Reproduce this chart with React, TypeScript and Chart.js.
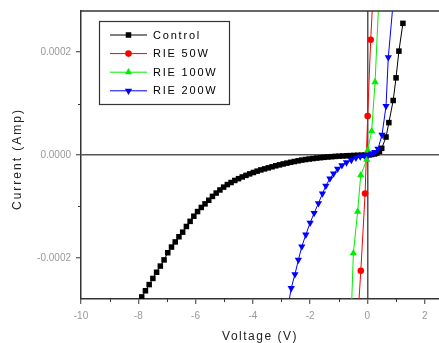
import React, { useEffect, useRef } from 'react';
import { Chart, registerables } from 'chart.js';
import { drawPoint } from 'chart.js/helpers';

Chart.register(...registerables);

// ---------- data ----------
const seriesLabels = ['Control', 'RIE 50W', 'RIE 100W', 'RIE 200W'];

// Voltage (V) and current (µA)
const controlVoltage = [
  -7.88, -7.75, -7.62, -7.49, -7.36, -7.23, -7.1, -6.97, -6.84, -6.71, -6.58, -6.45, -6.32, -6.19, -6.06,
  -5.93, -5.8, -5.67, -5.54, -5.41, -5.28, -5.15, -5.02, -4.89, -4.76, -4.63, -4.5, -4.37, -4.24, -4.11,
  -3.98, -3.85, -3.72, -3.59, -3.46, -3.33, -3.2, -3.07, -2.94, -2.81, -2.68, -2.55, -2.42, -2.29, -2.16,
  -2.03, -1.9, -1.77, -1.64, -1.51, -1.38, -1.25, -1.12, -0.99, -0.86, -0.73, -0.6, -0.47, -0.34, -0.21,
  -0.08, 0.05, 0.15, 0.25, 0.33, 0.42, 0.5, 0.65, 0.75, 0.9, 1.0, 1.1, 1.24,
];
const controlCurrent = [
  -276, -264, -252, -240, -228, -216, -204, -190, -179, -169, -159, -150, -139, -129, -119,
  -110, -102, -95, -88, -80.5, -74, -68, -62.5, -57.5, -53.5, -49.5, -46, -42.7, -39.6, -36.7,
  -34, -31.4, -29, -27, -25, -23, -21, -19.2, -17.4, -15.8, -14.2, -12.7, -11.3, -9.9, -8.8,
  -7.8, -6.9, -6.0, -5.2, -4.5, -3.9, -3.3, -2.7, -2.3, -1.9, -1.5, -1.2, -0.9, -0.6, -0.4,
  -0.1, 0.3, 1, 2, 4, 7, 13, 35, 63, 106, 150, 202, 256,
];

const rie50Voltage = [-0.35, -0.23, -0.08, 0.01, 0.115, 0.24];
const rie50Current = [-333, -225, -75, 75.7, 224, 360];

const rie100Voltage = [-0.6, -0.49, -0.34, -0.233, -0.02, 0.01, 0.15, 0.268, 0.48];
const rie100Current = [-370, -191, -110, -39.4, -9, 9.1, 46.6, 141.8, 400];

const rie200Voltage = [
  -2.8, -2.66, -2.53, -2.41, -2.29, -2.15, -2.0, -1.86, -1.71, -1.57, -1.45, -1.31, -1.18, -1.04, -0.89,
  -0.73, -0.56, -0.4, -0.25, -0.11, 0.03, 0.15, 0.26, 0.37, 0.51, 0.65, 0.73, 1.0,
];
const rie200Current = [
  -305, -259, -232, -204, -178, -155, -132, -113, -94, -75, -60, -46, -36, -27, -20,
  -14.5, -10, -5.5, -3, -1.2, 0.5, 2.5, 5.5, 12, 39, 95, 190, 360,
];

const xTickValues = [-10, -8, -6, -4, -2, 0, 2];
const xMinorTickValues = [-9, -7, -5, -3, -1, 1];
const yTickValues = [-0.0002, 0, 0.0002];
const yMinorTickValues = [-0.0001, 0.0001];
const xTitle = 'Voltage (V)';
const yTitle = 'Current (Amp)';

const toPoints = (v: number[], i: number[]) => v.map((x, k) => ({ x, y: i[k] * 1e-6 }));

// ---------- plugins ----------
const framePlugin = {
  id: 'frameExtras',
  afterDraw(chart: any) {
    const { ctx, chartArea } = chart;
    const xs = chart.scales.x;
    const ys = chart.scales.y;
    ctx.save();
    // top frame line
    ctx.strokeStyle = '#333';
    ctx.lineWidth = 1.5;
    ctx.beginPath();
    ctx.moveTo(chartArea.left, chartArea.top);
    ctx.lineTo(chartArea.right + 2, chartArea.top);
    ctx.stroke();
    // minor ticks
    ctx.lineWidth = 1;
    ctx.strokeStyle = '#333';
    ctx.beginPath();
    xMinorTickValues.forEach((v) => {
      const px = Math.round(xs.getPixelForValue(v)) + 0.5;
      ctx.moveTo(px, chartArea.bottom);
      ctx.lineTo(px, chartArea.bottom + 3);
    });
    yMinorTickValues.forEach((v) => {
      const py = Math.round(ys.getPixelForValue(v)) + 0.5;
      ctx.moveTo(chartArea.left - 3, py);
      ctx.lineTo(chartArea.left, py);
    });
    ctx.stroke();
    // axis titles
    ctx.fillStyle = '#222';
    ctx.font = '12px "Liberation Sans", Arial, sans-serif';
    (ctx as any).letterSpacing = '1.5px';
    ctx.textAlign = 'center';
    ctx.textBaseline = 'middle';
    ctx.fillText(xTitle, (chartArea.left + chartArea.right) / 2, 337);
    (ctx as any).letterSpacing = '2px';
    ctx.translate(18, 159);
    ctx.rotate(-Math.PI / 2);
    ctx.fillText(yTitle, 0, 0);
    ctx.restore();
  },
};

const legendPlugin = {
  id: 'boxedLegend',
  afterDraw(chart: any) {
    const { ctx } = chart;
    const box = { left: 99.5, top: 21.5, width: 130, height: 83 };
    ctx.save();
    ctx.fillStyle = '#fff';
    ctx.fillRect(box.left, box.top, box.width, box.height);
    ctx.strokeStyle = '#333';
    ctx.lineWidth = 1.2;
    ctx.strokeRect(box.left, box.top, box.width, box.height);
    chart.data.datasets.forEach((ds: any, i: number) => {
      const y = 35 + i * 18.6;
      ctx.strokeStyle = ds.borderColor;
      ctx.lineWidth = 1;
      ctx.beginPath();
      ctx.moveTo(110, y);
      ctx.lineTo(147, y);
      ctx.stroke();
      ctx.fillStyle = ds.pointBackgroundColor;
      drawPoint(ctx, {
        pointStyle: ds.pointStyle,
        radius: ds.pointRadius,
        rotation: ds.pointRotation || 0,
        borderWidth: 0,
      } as any, 128.5, y);
      ctx.fillStyle = '#000';
      ctx.font = '11px "Liberation Sans", Arial, sans-serif';
      (ctx as any).letterSpacing = '1.8px';
      ctx.textAlign = 'left';
      ctx.textBaseline = 'middle';
      ctx.fillText(ds.label, 153, y + 0.5);
      (ctx as any).letterSpacing = '0px';
    });
    ctx.restore();
  },
};

// ---------- component ----------
export default function App() {
  const canvasRef = useRef<HTMLCanvasElement | null>(null);

  useEffect(() => {
    if (!canvasRef.current) return;
    const colors = ['#000000', '#ff0000', '#00ee00', '#0000ff'];
    const styles = ['rect', 'circle', 'triangle', 'triangle'];
    const radii = [3.9, 3.3, 4.2, 4.2];
    const rotations = [0, 0, 0, 180];
    const sets = [
      toPoints(controlVoltage, controlCurrent),
      toPoints(rie50Voltage, rie50Current),
      toPoints(rie100Voltage, rie100Current),
      toPoints(rie200Voltage, rie200Current),
    ];
    const chart = new Chart(canvasRef.current, {
      type: 'line',
      data: {
        datasets: sets.map((data, i) => ({
          label: seriesLabels[i],
          data,
          borderColor: colors[i],
          backgroundColor: colors[i],
          pointBackgroundColor: colors[i],
          pointBorderWidth: 0,
          pointStyle: styles[i],
          pointRadius: radii[i],
          pointRotation: rotations[i],
          borderWidth: 1,
          tension: 0,
          fill: false,
          order: 3 - i,
        })),
      },
      options: {
        animation: false,
        responsive: false,
        devicePixelRatio: 1,
        layout: { autoPadding: false, padding: { top: 11, right: 0, left: 0, bottom: 0 } },
        plugins: {
          legend: { display: false },
          tooltip: { enabled: false },
        },
        scales: {
          x: {
            type: 'linear',
            min: -10,
            max: 2.5,
            afterFit: (s: any) => { s.height = 44; s.paddingRight = 0; s.paddingLeft = 0; },
            afterBuildTicks: (s: any) => { s.ticks = xTickValues.map((value) => ({ value })); },
            border: { display: true, color: '#333', width: 1.5 },
            grid: {
              drawOnChartArea: true,
              color: (c: any) => (c.tick && c.tick.value === 0 ? '#555' : 'rgba(0,0,0,0)'),
              lineWidth: 1.5,
              tickColor: '#333',
              tickWidth: 1,
              tickLength: 5,
            },
            ticks: {
              color: '#999',
              font: { size: 10, family: '"Liberation Sans", Arial, sans-serif' },
              padding: 6,
              maxRotation: 0,
              callback: (v: any) => String(v),
            },
          },
          y: {
            type: 'linear',
            min: -0.00028,
            max: 0.00028,
            afterFit: (s: any) => { s.width = 81; s.paddingTop = 0; s.paddingBottom = 0; },
            afterBuildTicks: (s: any) => { s.ticks = yTickValues.map((value) => ({ value })); },
            border: { display: true, color: '#333', width: 1.5 },
            grid: {
              drawOnChartArea: true,
              color: (c: any) => (c.tick && c.tick.value === 0 ? '#555' : 'rgba(0,0,0,0)'),
              lineWidth: 1.5,
              tickColor: '#333',
              tickWidth: 1,
              tickLength: 5,
            },
            ticks: {
              color: '#999',
              font: { size: 10, family: '"Liberation Sans", Arial, sans-serif' },
              padding: 5,
              callback: (v: any) => Number(v).toFixed(4),
            },
          },
        },
      },
      plugins: [framePlugin, legendPlugin],
    } as any);
    return () => chart.destroy();
  }, []);

  return (
    <div style={{ position: 'absolute', left: 0, top: 0, width: 439, height: 343, background: '#fff' }}>
      <canvas ref={canvasRef} width={439} height={343} style={{ display: 'block' }} />
    </div>
  );
}
